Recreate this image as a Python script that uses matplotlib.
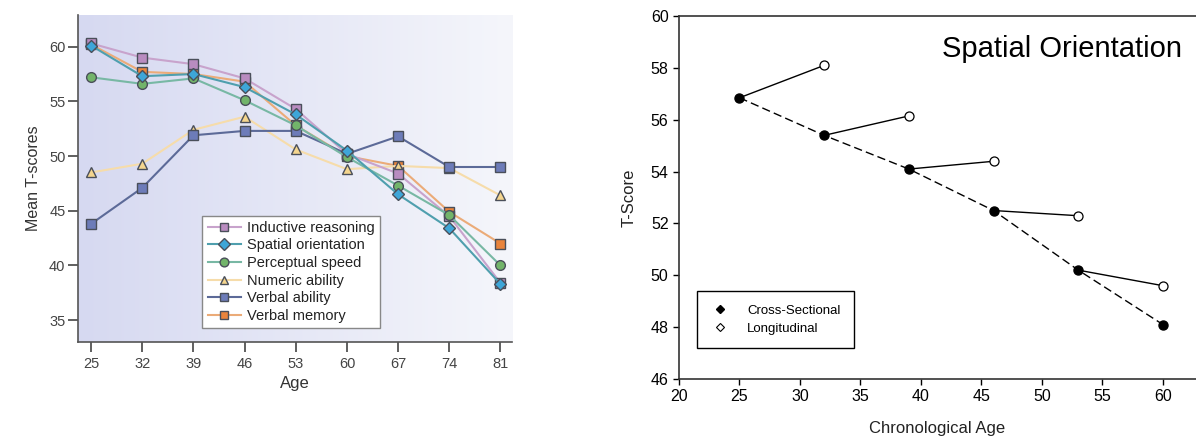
import numpy as np
import matplotlib
matplotlib.use("Agg")
import matplotlib.pyplot as plt
from matplotlib.lines import Line2D

plt.rcParams['font.family'] = ['Liberation Sans', 'DejaVu Sans']

# ── left panel: mean T-scores by age ─────────────────────────────────────────
ages = [25, 32, 39, 46, 53, 60, 67, 74, 81]
inductive   = [60.3, 59.0, 58.4, 57.1, 54.3, 50.2, 48.4, 44.5, 38.4]
spatial     = [60.1, 57.3, 57.5, 56.3, 53.8, 50.5, 46.5, 43.4, 38.3]
perceptual  = [57.2, 56.6, 57.1, 55.1, 52.8, 49.9, 47.3, 44.6, 40.0]
numeric     = [48.5, 49.3, 52.4, 53.6, 50.6, 48.8, 49.1, 48.9, 46.4]
verbal_abil = [43.8, 47.1, 51.9, 52.3, 52.3, 50.2, 51.8, 49.0, 49.0]
verbal_mem  = [60.2, 57.7, 57.5, 56.8, 52.8, 50.0, 49.1, 44.9, 42.0]

# name, values, marker, face colour, line colour, stacking order
series = [
    ('Inductive reasoning', inductive,   's', '#b98cc0', '#c8a3cc', 4),
    ('Spatial orientation', spatial,     'D', '#3ea6d8', '#4f9fae', 6),
    ('Perceptual speed',    perceptual,  'o', '#72b46a', '#78b8a4', 5),
    ('Numeric ability',     numeric,     '^', '#f4d58e', '#f6dcaa', 3),
    ('Verbal ability',      verbal_abil, 's', '#6d7cb9', '#5c6a98', 3.5),
    ('Verbal memory',       verbal_mem,  's', '#e9843c', '#ebab78', 2),
]

# ── right panel: spatial orientation ─────────────────────────────────────────
cs_age   = [25, 32, 39, 46, 53, 60]
cs_score = [56.85, 55.4, 54.1, 52.5, 50.2, 48.1]
lg_age   = [32, 39, 46, 53, 60]
lg_score = [58.1, 56.15, 54.4, 52.3, 49.6]

fig = plt.figure(figsize=(11.96, 4.48), dpi=100)
fig.patch.set_facecolor('white')

# left axes
ax1 = fig.add_axes([0.0652, 0.2366, 0.363, 0.730])
grad = np.linspace(0, 1, 256)[:, None]
c0 = np.array([214, 217, 241]) / 255
c1 = np.array([245, 246, 251]) / 255
bg = (c0 + (c1 - c0) * grad)[None, :, :]
ax1.imshow(bg, extent=[0, 1, 0, 1], transform=ax1.transAxes, aspect='auto',
           zorder=0, interpolation='bicubic')

for name, vals, mk, fc, lc, z in series:
    ms = 7 if mk != 'D' else 6.5
    ax1.plot(ages, vals, color=lc, lw=1.5, marker=mk, ms=ms,
             mfc=fc, mec='#4a4f5a', mew=1.0, label=name, zorder=z)

ax1.set_xlim(23.2, 82.6)
ax1.set_ylim(33.0, 62.9)
ax1.set_xticks(ages)
ax1.set_yticks([35, 40, 45, 50, 55, 60])
ax1.tick_params(colors='#444444', labelsize=10.5, length=7, width=1.2,
                direction='out')
ax1.tick_params(axis='y', pad=2)
for s in ['top', 'right']:
    ax1.spines[s].set_visible(False)
for s in ['left', 'bottom']:
    ax1.spines[s].set_color('#555555')
    ax1.spines[s].set_linewidth(1.2)
ax1.set_xlabel('Age', fontsize=12, color='#333333', labelpad=4)
ax1.set_ylabel('Mean T-scores', fontsize=11.5, color='#333333', labelpad=6)

leg1 = ax1.legend(loc='lower left', bbox_to_anchor=(0.27, 0.02), fontsize=10.5,
                  frameon=True, fancybox=False, framealpha=1, edgecolor='#888888',
                  handlelength=2.3, handletextpad=0.4, borderpad=0.35,
                  labelspacing=0.25, markerscale=0.9)
leg1.get_frame().set_linewidth(1.0)
leg1.set_zorder(10)
for t in leg1.get_texts():
    t.set_color('#222222')

# right axes
ax2 = fig.add_axes([0.5677, 0.154, 0.4323, 0.810])
ax2.plot(cs_age, cs_score, color='black', lw=1.0, ls=(0, (6, 3)), zorder=2)
for a0, s0, a1, s1 in zip(cs_age[:-1], cs_score[:-1], lg_age, lg_score):
    ax2.plot([a0, a1], [s0, s1], color='black', lw=1.0, zorder=2)
ax2.plot(cs_age, cs_score, ls='none', marker='o', ms=6.5, mfc='black',
         mec='black', zorder=3)
ax2.plot(lg_age, lg_score, ls='none', marker='o', ms=6.5, mfc='white',
         mec='black', mew=0.9, zorder=3)

ax2.set_xlim(20, 62.73)
ax2.set_ylim(46, 60)
ax2.set_xticks([20, 25, 30, 35, 40, 45, 50, 55, 60])
ax2.set_yticks([46, 48, 50, 52, 54, 56, 58, 60])
ax2.tick_params(colors='black', labelsize=11.5, length=4, width=1,
                direction='out')
ax2.spines['right'].set_visible(False)
for s in ['top', 'left', 'bottom']:
    ax2.spines[s].set_color('#333333')
    ax2.spines[s].set_linewidth(1.2)
ax2.set_xlabel('Chronological Age', fontsize=12, color='#222222', labelpad=12)
ax2.set_ylabel('T-Score', fontsize=12, color='#222222', labelpad=10)
ax2.text(0.973, 0.91, 'Spatial Orientation', transform=ax2.transAxes,
         ha='right', va='center', fontsize=21, color='black')

handles = [
    Line2D([], [], ls='none', marker='D', ms=4.5, mfc='black', mec='black',
           label='Cross-Sectional'),
    Line2D([], [], ls='none', marker='D', ms=4.5, mfc='white', mec='black',
           mew=0.8, label='Longitudinal'),
]
leg2 = ax2.legend(handles=handles, loc='lower left',
                  bbox_to_anchor=(0.035, 0.085), fontsize=9.5,
                  frameon=True, fancybox=False, framealpha=1,
                  edgecolor='black', handlelength=1.5, handletextpad=1.3,
                  borderpad=1.0, labelspacing=0.45, borderaxespad=0)
leg2.get_frame().set_linewidth(1.0)

plt.savefig('out.png', dpi=100, facecolor='white')
plt.close()
